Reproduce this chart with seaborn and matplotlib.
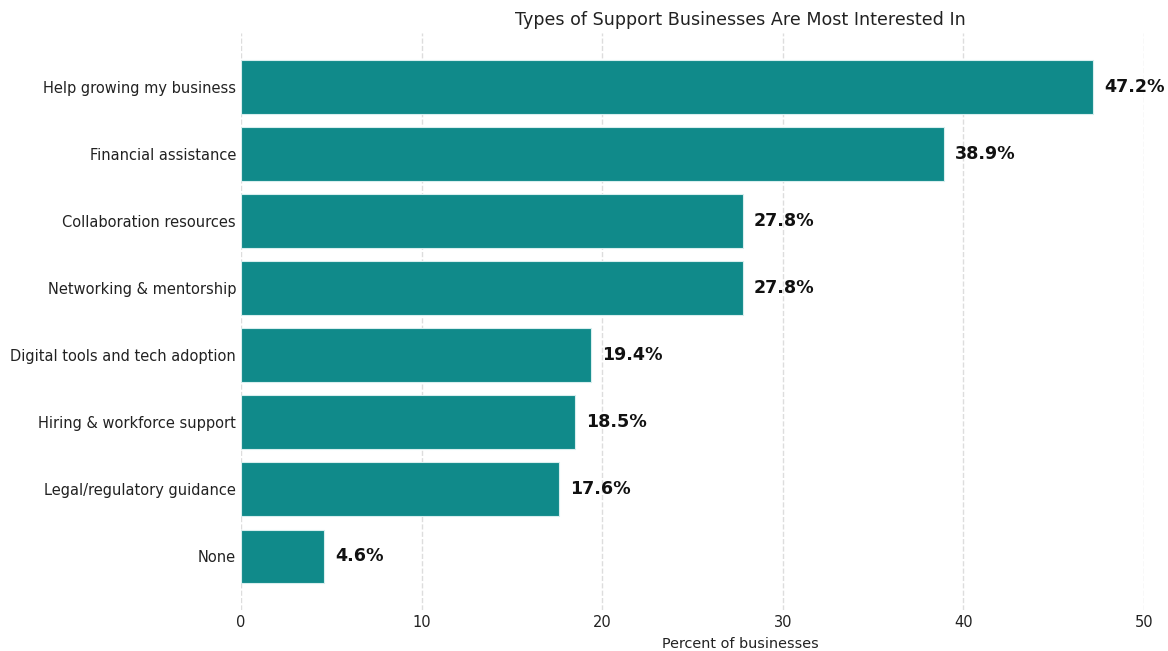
import matplotlib
matplotlib.use("Agg")
import matplotlib.pyplot as plt
import seaborn as sns
import pandas as pd

categories = [
    "Help growing my business",
    "Financial assistance",
    "Collaboration resources",
    "Networking & mentorship",
    "Digital tools and tech adoption",
    "Hiring & workforce support",
    "Legal/regulatory guidance",
    "None",
]
percents = [47.2, 38.9, 27.8, 27.8, 19.4, 18.5, 17.6, 4.6]
xticks = [0, 10, 20, 30, 40, 50]

df = pd.DataFrame({"category": categories, "percent": percents})

sns.set_theme(style="white")
plt.rcParams["font.family"] = ["DejaVu Sans"]

fig = plt.figure(figsize=(11.68, 6.51), dpi=100)
ax = fig.add_axes([0.2063, 0.063, 0.7732, 0.886])

sns.barplot(data=df, x="percent", y="category", orient="h", color="#108a8a",
            saturation=1, width=0.8, edgecolor="#d8eeee", linewidth=0.8, ax=ax)

for i, v in enumerate(percents):
    ax.text(v + 0.6, i, f"{v:.1f}%", va="center", ha="left",
            fontsize=12.6, fontweight="bold", color="#111111")

ax.set_xlim(0, 50)
ax.set_ylim(7.8, -0.8)
ax.set_xticks(xticks)
ax.set_xlabel("Percent of businesses", fontsize=10.4, color="#222222")
ax.xaxis.set_label_coords(0.5526, -0.047)
ax.set_ylabel("")
ax.set_title("Types of Support Businesses Are Most Interested In", fontsize=12.6,
             color="#222222", pad=6, x=0.5526)
ax.tick_params(axis="both", labelsize=10.5, colors="#222222", length=0)
ax.xaxis.grid(True, linestyle="--", color="#dddddd", linewidth=1)
ax.set_axisbelow(True)
for s in ax.spines.values():
    s.set_visible(False)

fig.savefig("out.png", dpi=100)
